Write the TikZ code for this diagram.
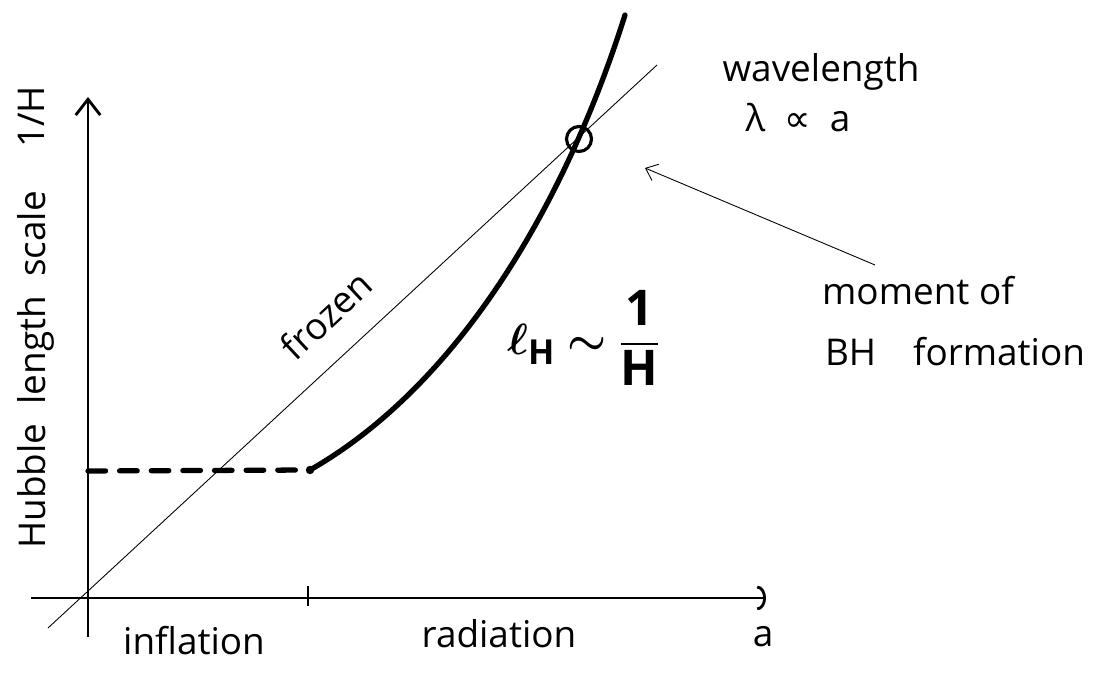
\documentclass[tikz,border=0pt]{standalone}
\usepackage{amsmath}
\usepackage{amssymb}
\usepackage{fontspec}
\setmainfont{Open Sans}
\newfontfamily\symfont{DejaVu Sans}
\usetikzlibrary{arrows.meta}
\tikzset{
  axisline/.style={line width=1.6pt},
  hubble/.style={line width=3pt,line cap=round},
  hand/.style={inner sep=0pt,font=\fontsize{21}{25}\selectfont},
}

\begin{document}
\begin{tikzpicture}[x=0.02cm,y=-0.02cm]
\useasboundingbox (0,0) rectangle (1097,675);

\coordinate (ybot) at (88,637);
\coordinate (ytop) at (88,97);
\coordinate (xleft) at (31,598);
\coordinate (xright) at (766,598);
\coordinate (ticktop) at (308,586);
\coordinate (tickbot) at (308,606);
\coordinate (lowleft) at (48,628);
\coordinate (upright) at (657,65);
\coordinate (plateau) at (88,471);
\coordinate (kink) at (310,470);
\coordinate (curvetop) at (625,15);
\coordinate (ptail) at (875,265);
\coordinate (ptip) at (645,168);

\draw[axisline,-{Straight Barb[length=9pt,width=14pt]}] (ybot) -- (ytop);
\draw[axisline,-{Arc Barb[length=5pt,width=14pt]}] (xleft) -- (xright);
\draw[axisline] (ticktop) -- (tickbot);

\draw[line width=0.5pt] (lowleft) -- (upright);
\draw[hubble,dash pattern=on 10pt off 8pt] (plateau) -- (kink);
\draw[hubble] (kink) .. controls (450,390) and (560,220) .. (curvetop);
\fill (kink) circle (2.4pt);

\draw (579,139) node[draw,circle,line width=1.8pt,minimum size=0.5cm,inner sep=0pt](bhform) {};
\draw[line width=0.5pt,-{Straight Barb[length=6pt,width=10pt]}] (ptail) -- (ptip);

\draw (31,117) node[hand,rotate=90](invh) {1/H};
\draw (36,370) node[hand,rotate=90](hubblescale) {Hubble\ \ length\ \ scale};
\draw (326,315) node[hand,rotate=43](frozen) {frozen};
\draw (584,338) node[hand,font=\fontsize{28}{34}\selectfont](lhubble) {$\displaystyle\boldsymbol{\ell}_{\mathbf{H}} \boldsymbol{\sim} \frac{\mathbf{1}}{\mathbf{H}}$};
\draw (821,72) node[hand](wavelength) {wavelength};
\draw (798,118) node[hand](lambda) {λ\ \ {\symfont ∝}\ \ a};
\draw (918,291) node[hand](moment) {moment\ of};
\draw (955,352) node[hand](bhformation) {BH\quad formation};
\draw (194,641) node[hand](inflation) {inflation};
\draw (499,634) node[hand](radiation) {radiation};
\draw (763,637) node[hand](avar) {a};
\end{tikzpicture}
\end{document}
